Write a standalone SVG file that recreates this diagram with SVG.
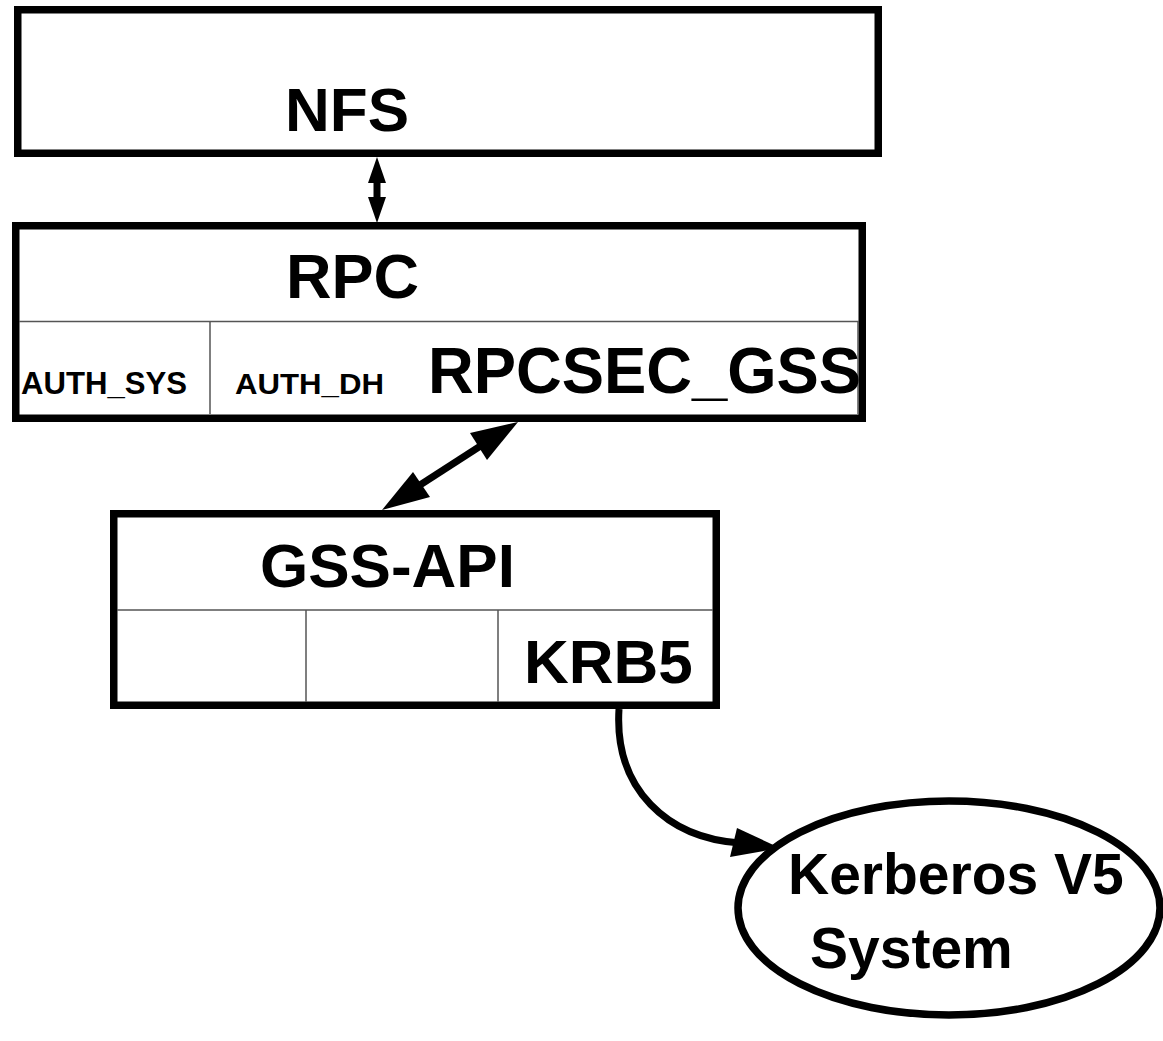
<svg xmlns="http://www.w3.org/2000/svg" width="1163" height="1041" viewBox="0 0 1163 1041">
<style>
.box{fill:#fff;stroke:#000;stroke-width:7.5}
.div{stroke:#555;stroke-width:1.5;fill:none}
.t{font-family:"Liberation Sans",Arial,sans-serif;font-weight:bold;fill:#000}
.edge{stroke:#000;stroke-width:7;fill:none}
.head{fill:#000;stroke:none}
</style>
<rect x="0" y="0" width="1163" height="1041" fill="#fff"/>
<g id="nfs">
<rect class="box" x="17.75" y="9.75" width="860.5" height="143.5"/>
<text class="t" x="285" y="131" font-size="62">NFS</text>
</g>
<g id="rpc">
<rect class="box" x="15.75" y="225.75" width="846.5" height="192.5"/>
<line class="div" x1="19" y1="321.5" x2="859" y2="321.5"/>
<line class="div" x1="210" y1="321.5" x2="210" y2="414"/>
<line class="div" x1="858" y1="321.5" x2="858" y2="414"/>
<text class="t" x="286" y="298" font-size="63">RPC</text>
<text class="t" x="21" y="394" font-size="32" textLength="166" lengthAdjust="spacingAndGlyphs">AUTH_SYS</text>
<text class="t" x="235" y="394" font-size="30" textLength="149" lengthAdjust="spacingAndGlyphs">AUTH_DH</text>
<text class="t" x="428" y="393" font-size="64" textLength="433" lengthAdjust="spacingAndGlyphs">RPCSEC_GSS</text>
</g>
<g id="gssapi">
<rect class="box" x="113.75" y="513.75" width="602.5" height="191.5"/>
<line class="div" x1="117" y1="610" x2="713" y2="610"/>
<line class="div" x1="306" y1="610" x2="306" y2="702"/>
<line class="div" x1="498" y1="610" x2="498" y2="702"/>
<text class="t" x="260" y="587" font-size="62">GSS-API</text>
<text class="t" x="524" y="683" font-size="62">KRB5</text>
</g>
<g id="kerberos">
<ellipse cx="949" cy="908" rx="211" ry="107" fill="#fff" stroke="#000" stroke-width="7.5"/>
<text class="t" x="788" y="894" font-size="57">Kerberos V5</text>
<text class="t" x="810" y="968" font-size="57">System</text>
</g>
<g id="connectors">
<line class="edge" x1="377" y1="180" x2="377" y2="200"/>
<polygon class="head" points="377,157 386,183 368,183"/>
<polygon class="head" points="377,223 386,197 368,197"/>
<line class="edge" x1="482" y1="445" x2="420" y2="485"/>
<polygon class="head" points="518,422 487,460 470,433"/>
<polygon class="head" points="382,510 413,472 430,497"/>
<path class="edge" d="M619,709 C614,790 668,838 740,843"/>
<polygon class="head" points="780,848 737,828 730,857"/>
</g>
</svg>
